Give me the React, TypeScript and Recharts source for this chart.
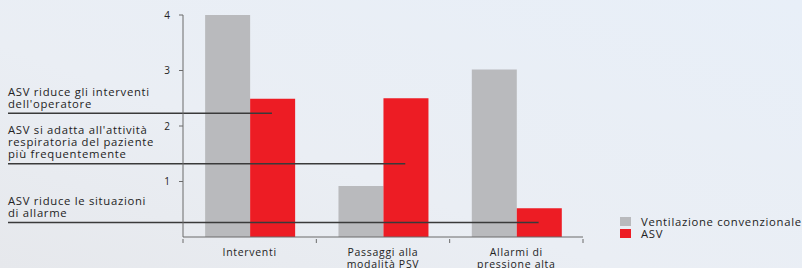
import { Bar, BarChart, ReferenceLine, XAxis, YAxis } from 'recharts'

const categories = ['Interventi', 'Passaggi alla modalità PSV', 'Allarmi di pressione alta']
const categoryLines = [['Interventi'], ['Passaggi alla', 'modalità PSV'], ['Allarmi di', 'pressione alta']]
const conventional = [4.0, 0.92, 3.02]
const asv = [2.49, 2.5, 0.52]
const yTicks = [1, 2, 3, 4]

// annotations on the left: text, level on the y scale, category whose ASV bar the line runs to
const noteTexts = [
  ['ASV riduce gli interventi', "dell'operatore"],
  ["ASV si adatta all'attività", 'respiratoria del paziente', 'più frequentemente'],
  ['ASV riduce le situazioni', 'di allarme'],
]
const noteLevels = [2.23, 1.32, 0.26]
const noteTargets = [0, 1, 2]

const GREY = '#b9babd'
const RED = '#ed1c24'
const INK = '#232323'
const FONT = '"Open Sans", "Noto Sans", sans-serif'
const GAP = 0.166

const data = categories.map((c, i) => ({
  name: c,
  conv: conventional[i],
  asv: asv[i],
}))

function XTick(props: any) {
  const { x, y, payload, index } = props
  const half = payload?.offset ?? 400 / 3 / 2
  const lines = categoryLines[index] ?? [payload.value]
  return (
    <g>
      <line x1={x + half} y1={y - 6} x2={x + half} y2={y - 2} stroke="#6b6b6b" strokeWidth={1} />
      {index === 0 ? (
        <line x1={x - half} y1={y - 6} x2={x - half} y2={y - 2} stroke="#6b6b6b" strokeWidth={1} />
      ) : null}
      {lines.map((l: string, k: number) => (
        <text
          key={k}
          x={x}
          y={y + 11 + k * 12}
          textAnchor="middle"
          fill={INK}
          fontSize={10.5}
          fontWeight={500}
          letterSpacing={0.7}
          fontFamily={FONT}
        >
          {l}
        </text>
      ))}
    </g>
  )
}

function noteShape(i: number) {
  return (props: any) => {
    const { x1, x2, y1 } = props
    const band = (x2 - x1) / categories.length
    const bw = (band * (1 - 2 * GAP)) / 2
    const end = x1 + band * noteTargets[i] + band * GAP + bw * 1.5
    const lines = noteTexts[i]
    return (
      <g>
        {lines.map((t, k) => (
          <text
            key={k}
            x={8}
            y={y1 - 5.5 - (lines.length - 1 - k) * 12}
            fill={INK}
            fontSize={11.3}
            fontWeight={500}
            letterSpacing={0.7}
            fontFamily={FONT}
          >
            {t}
          </text>
        ))}
        <line x1={8} y1={y1} x2={end} y2={y1} stroke="#3a3a3a" strokeWidth={1.4} />
      </g>
    )
  }
}

function LegendBox() {
  const items = [
    { label: 'Ventilazione convenzionale', color: GREY },
    { label: 'ASV', color: RED },
  ]
  return (
    <div
      style={{
        position: 'absolute',
        left: 620,
        top: 215,
        fontFamily: FONT,
        fontSize: 11.3,
        fontWeight: 500,
        letterSpacing: 0.7,
        color: INK,
      }}
    >
      {items.map((it) => (
        <div key={it.label} style={{ display: 'flex', alignItems: 'center', height: 12, whiteSpace: 'nowrap' }}>
          <span style={{ width: 11, height: 9, background: it.color, display: 'inline-block', marginRight: 10 }} />
          <span>{it.label}</span>
        </div>
      ))}
    </div>
  )
}

export default function App() {
  return (
    <div
      style={{
        position: 'relative',
        width: 802,
        height: 268,
        overflow: 'hidden',
        background: 'linear-gradient(20deg, #e6e8ec 0%, #eaeef4 40%, #e8eff8 100%)',
      }}
    >
      <style>{'body{margin:0}'}</style>
      <BarChart
        width={802}
        height={268}
        data={data}
        margin={{ top: 15, right: 219, bottom: 0, left: 143 }}
        barCategoryGap={`${GAP * 100}%`}
        barGap={0}
      >
        <XAxis
          dataKey="name"
          axisLine={{ stroke: '#6b6b6b' }}
          tickLine={false}
          height={31}
          interval={0}
          tick={<XTick />}
        />
        <YAxis
          domain={[0, 4]}
          ticks={yTicks}
          width={40}
          axisLine={{ stroke: '#6b6b6b' }}
          tickLine={{ stroke: '#6b6b6b' }}
          tickSize={4}
          tickMargin={9}
          tick={{ fill: INK, fontSize: 10, fontWeight: 500, fontFamily: FONT }}
        />
        <Bar dataKey="conv" name="Ventilazione convenzionale" fill={GREY} isAnimationActive={false} />
        <Bar dataKey="asv" name="ASV" fill={RED} isAnimationActive={false} />
        {noteLevels.map((v, i) => (
          <ReferenceLine key={i} y={v} shape={noteShape(i)} />
        ))}
      </BarChart>
      <LegendBox />
    </div>
  )
}
